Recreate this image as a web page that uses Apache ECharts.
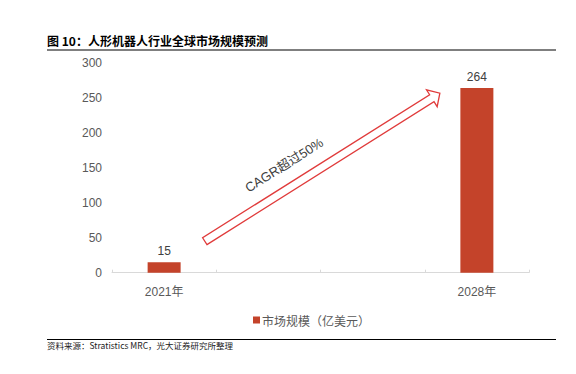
<!DOCTYPE html>
<html>
<head>
<meta charset="utf-8">
<script src="https://cdn.jsdelivr.net/npm/echarts@6/dist/echarts.min.js"></script>
<style>html,body{margin:0;padding:0;background:#fff;}#c{width:576px;height:374px;}</style>
</head>
<body>
<div id="c"></div>
<script>
// ---- data ----
const categories = ['2021年', '', '', '2028年'];
const marketSize = [15, '-', '-', 264];
const seriesName = '市场规模（亿美元）';
const yMin = 0, yMax = 300, yStep = 50;
const titleText = '图 10：人形机器人行业全球市场规模预测';
const sourceText = '资料来源：Stratistics MRC，光大证券研究所整理';
const annotationText = 'CAGR超过50%';

const FONT = "'Liberation Sans', 'Noto Sans CJK SC', sans-serif";
const CJK = "'Noto Sans CJK SC', sans-serif";

const chart = echarts.init(document.getElementById('c'), null, {renderer: 'svg'});

const baseGraphics = [
  {type: 'line', shape: {x1: 47, y1: 50, x2: 556, y2: 50}, style: {stroke: '#000', lineWidth: 1.2}, silent: true},
  {type: 'line', shape: {x1: 47, y1: 339.5, x2: 556, y2: 339.5}, style: {stroke: '#000', lineWidth: 1.2}, silent: true}
];

chart.setOption({
  animation: false,
  backgroundColor: '#fff',
  title: [
    {text: titleText, left: 47, top: 34, padding: 0,
     textStyle: {fontFamily: CJK, fontSize: 12, fontWeight: 'bold', color: '#000'}},
    {text: sourceText, left: 47, top: 340.5, padding: 0,
     textStyle: {fontFamily: CJK, fontSize: 8.5, fontWeight: 'normal', color: '#222'}}
  ],
  grid: {left: 112, right: 47, top: 62.7, bottom: 101.3, containLabel: false},
  legend: {
    data: [seriesName], left: 253, top: 314, padding: 0,
    icon: 'rect', itemWidth: 7, itemHeight: 7,
    textStyle: {fontFamily: CJK, fontSize: 12, color: '#595959', padding: [0, 0, 0, -3]}
  },
  xAxis: {
    type: 'category', data: categories, boundaryGap: true,
    axisLine: {lineStyle: {color: '#d9d9d9', width: 1}},
    axisTick: {show: true, inside: true, length: 3, alignWithLabel: false, lineStyle: {color: '#d9d9d9'}},
    axisLabel: {fontFamily: FONT, fontSize: 12, color: '#595959', margin: 13}
  },
  yAxis: {
    type: 'value', min: yMin, max: yMax, interval: yStep,
    axisLine: {show: false}, axisTick: {show: false}, splitLine: {show: false},
    axisLabel: {fontFamily: FONT, fontSize: 12, color: '#595959', margin: 10}
  },
  series: [{
    name: seriesName, type: 'bar', data: marketSize, barWidth: 33,
    itemStyle: {color: '#C4432A'},
    label: {show: true, position: 'top', distance: 5, fontFamily: FONT, fontSize: 12, color: '#404040'}
  }],
  graphic: baseGraphics
});

// ---- annotation arrow, anchored in data space ----
function toPx(catPos, val) {
  const a = chart.convertToPixel({seriesIndex: 0}, [0, val]);
  const b = chart.convertToPixel({seriesIndex: 0}, [1, val]);
  return [a[0] + (b[0] - a[0]) * catPos, a[1]];
}
const T = toPx(0.39, 45);
const P = toPx(2.645, 256.5);
const dx = P[0] - T[0], dy = P[1] - T[1];
const len = Math.hypot(dx, dy);
const u = [dx / len, dy / len];
const n = [-u[1], u[0]];
const w = 4.1, h = 10, L = 9.5;
const B = [P[0] - L * u[0], P[1] - L * u[1]];
const add = (p, v, s) => [p[0] + v[0] * s, p[1] + v[1] * s];
const pts = [
  add(T, n, w), add(B, n, w), add(B, n, h), P,
  add(B, n, -h), add(B, n, -w), add(T, n, -w)
];
const tc = add(add(T, u, 107.7), n, -22.1);
const ang = Math.atan2(-dy, dx);

chart.setOption({
  graphic: baseGraphics.concat([
    {type: 'polygon', shape: {points: pts}, style: {fill: '#fff', stroke: '#E03B3B', lineWidth: 1.3}, silent: true, z: 10},
    {type: 'text', x: tc[0], y: tc[1], rotation: ang, z: 11,
     style: {text: annotationText, x: 0, y: 0, align: 'center', verticalAlign: 'middle',
             font: "13px 'Liberation Sans', 'Noto Sans CJK SC', sans-serif", fill: '#404040'}}
  ])
});
</script>
</body>
</html>
